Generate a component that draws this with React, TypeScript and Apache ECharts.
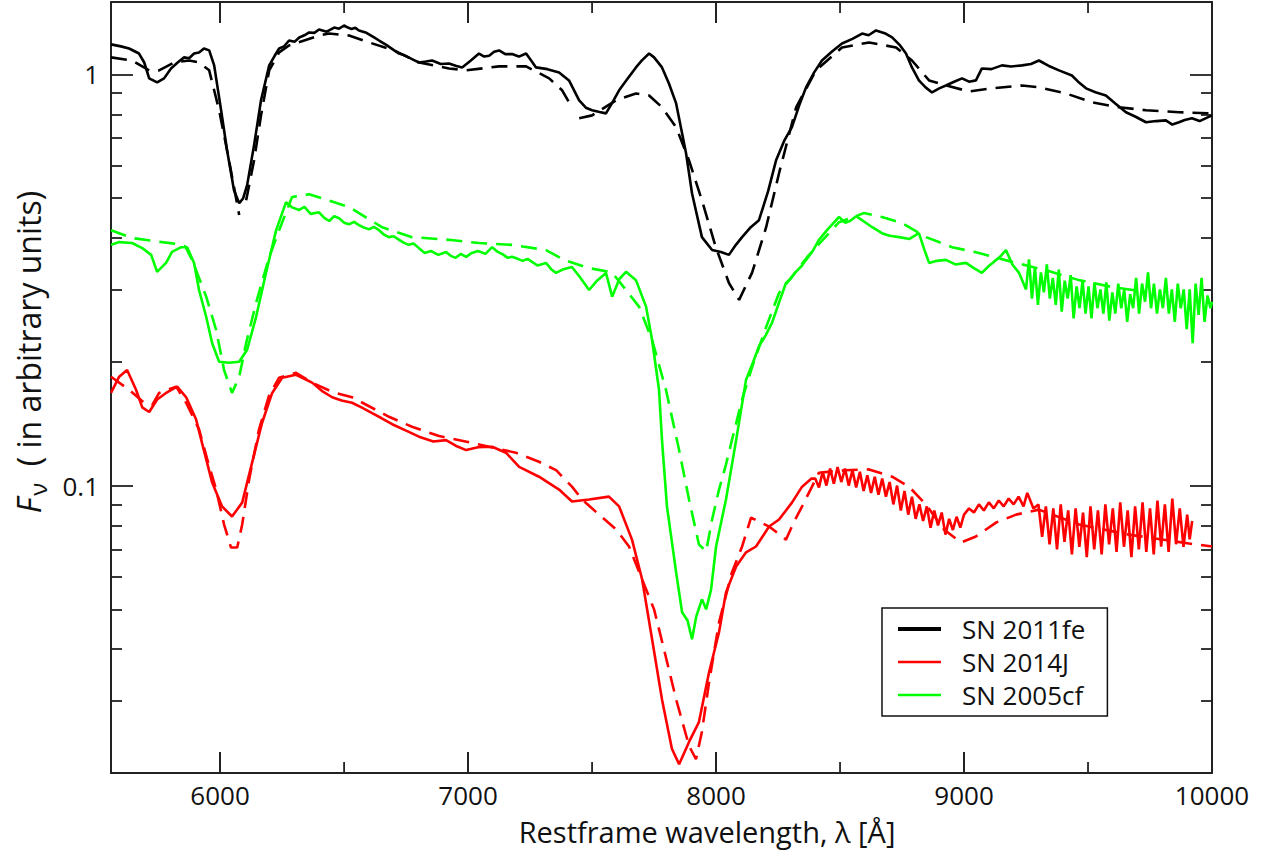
import React, { useEffect, useRef } from 'react';
import * as echarts from 'echarts';

const X_MIN = 5560;
const X_MAX = 10000;
const Y_MIN = 0.02;
const Y_MAX = 1.5;

const xMajorTicks = [6000, 7000, 8000, 9000, 10000];
const xMinorTicks = [6500, 7500, 8500, 9500];
const yMajorTicks = [0.1, 1];
const yMinorTicks = [0.02, 0.03, 0.04, 0.05, 0.06, 0.07, 0.08, 0.09, 0.2, 0.3, 0.4, 0.5, 0.6, 0.7, 0.8, 0.9];

const legendNames = ['SN 2011fe', 'SN 2014J', 'SN 2005cf'];
const colors = { fe: '#000000', j: '#ff0000', cf: '#00ff00' };

// SN 2011fe observed spectrum [wavelength Å, F_nu]
const sn2011feObs = [
  [5560, 1.183], [5600, 1.170], [5633, 1.156], [5673, 1.124], [5694, 1.069], [5714, 0.978], [5746, 0.956], [5774, 0.978],
  [5802, 1.034], [5830, 1.070], [5855, 1.100], [5875, 1.095], [5895, 1.124], [5915, 1.130], [5935, 1.156], [5956, 1.144], [5976, 1.052], [6004, 0.818],
  [6028, 0.654], [6056, 0.523], [6077, 0.486], [6093, 0.500], [6109, 0.538], [6137, 0.673], [6165, 0.865],
  [6198, 1.052], [6220, 1.110], [6238, 1.156], [6258, 1.170], [6278, 1.209], [6300, 1.200], [6319, 1.230], [6340, 1.245], [6359, 1.265], [6380, 1.262], [6399, 1.286], [6430, 1.270],
  [6460, 1.300], [6480, 1.292], [6500, 1.315], [6515, 1.300], [6530, 1.290], [6545, 1.298], [6560, 1.279], [6590, 1.262], [6621, 1.230], [6641, 1.209],
  [6670, 1.180], [6702, 1.144], [6722, 1.124], [6740, 1.115], [6760, 1.100], [6780, 1.085], [6802, 1.069], [6830, 1.075], [6855, 1.081], [6890, 1.060], [6923, 1.063],
  [6950, 1.050], [6976, 1.040], [7010, 1.080], [7044, 1.124], [7065, 1.105], [7085, 1.110], [7105, 1.135], [7125, 1.144], [7150, 1.120], [7180, 1.120], [7205, 1.105], [7234, 1.124],
  [7255, 1.080], [7274, 1.040], [7320, 1.030], [7367, 1.011], [7407, 0.967], [7448, 0.865], [7475, 0.830], [7500, 0.818], [7530, 0.810], [7556, 0.804],
  [7580, 0.850], [7609, 0.915], [7640, 0.970], [7677, 1.040], [7700, 1.080], [7730, 1.124], [7750, 1.100], [7782, 1.040], [7810, 0.950], [7839, 0.850], [7879, 0.643], [7903, 0.514],
  [7943, 0.402], [7984, 0.374], [8020, 0.370], [8052, 0.364], [8080, 0.385], [8105, 0.402], [8140, 0.425],
  [8173, 0.442], [8210, 0.520], [8242, 0.618], [8275, 0.690], [8306, 0.744], [8335, 0.840], [8363, 0.930], [8395, 1.010], [8427, 1.081], [8470, 1.140], [8508, 1.189], [8550, 1.220],
  [8589, 1.257], [8615, 1.245], [8645, 1.279], [8680, 1.260], [8710, 1.230], [8740, 1.180], [8766, 1.124], [8790, 1.040], [8818, 0.967], [8845, 0.930], [8871, 0.904], [8900, 0.925], [8927, 0.940],
  [8960, 0.960], [8992, 0.978], [9020, 0.960], [9048, 0.967], [9072, 1.034], [9110, 1.030], [9153, 1.052], [9190, 1.045], [9234, 1.052], [9270, 1.060], [9302, 1.081], [9340, 1.050], [9383, 1.023],
  [9435, 0.994], [9460, 0.960], [9492, 0.925], [9530, 0.905], [9572, 0.889], [9610, 0.850], [9653, 0.809], [9690, 0.790], [9734, 0.765], [9775, 0.770], [9814, 0.773], [9840, 0.755], [9867, 0.765],
  [9890, 0.775], [9919, 0.782], [9950, 0.770], [10000, 0.795],
];

// SN 2011fe model (dashed), three fitted pieces separated by gaps
const sn2011feModel = [
  [5560, 1.100], [5645, 1.081], [5714, 1.023], [5754, 1.023], [5815, 1.069], [5875, 1.081], [5915, 1.069],
  [5956, 1.023], [5996, 0.818], [6036, 0.618], [6077, 0.455],
  [6090, null],
  [6105, 0.494], [6137, 0.618], [6165, 0.795], [6198, 1.023], [6238, 1.131], [6278, 1.176], [6399, 1.243],
  [6440, 1.257], [6520, 1.243], [6601, 1.196], [6702, 1.144], [6802, 1.069], [6923, 1.034], [6992, 1.023],
  [7125, 1.046], [7234, 1.046], [7327, 0.978], [7379, 0.915], [7419, 0.832],
  [7432, null],
  [7448, 0.782], [7500, 0.795], [7597, 0.865], [7677, 0.899], [7730, 0.889], [7782, 0.832], [7839, 0.744],
  [7891, 0.618], [7943, 0.494], [7999, 0.380], [8052, 0.311], [8093, 0.283], [8145, 0.329], [8202, 0.425],
  [8254, 0.575], [8323, 0.832], [8403, 1.023], [8508, 1.163], [8617, 1.196], [8726, 1.163], [8790, 1.081],
  [8859, 0.967], [8927, 0.940], [9020, 0.909], [9113, 0.925], [9234, 0.940], [9302, 0.930], [9411, 0.899],
  [9516, 0.855], [9625, 0.832], [9734, 0.818], [9867, 0.809], [10000, 0.804],
];

// SN 2014J observed spectrum
const sn2014jObs = [
  [5560, 0.168], [5593, 0.184], [5625, 0.191], [5661, 0.171], [5686, 0.155], [5714, 0.151], [5746, 0.162],
  [5782, 0.168], [5827, 0.174], [5863, 0.164], [5903, 0.145], [5927, 0.127], [5968, 0.1017], [6008, 0.0890],
  [6048, 0.0841], [6089, 0.0909], [6129, 0.1137], [6169, 0.142], [6210, 0.168], [6250, 0.183], [6306, 0.186],
  [6371, 0.178], [6410, 0.170], [6452, 0.164], [6490, 0.161], [6532, 0.159], [6570, 0.155], [6613, 0.150], [6650, 0.146], [6694, 0.141], [6750, 0.136], [6802, 0.1315], [6860, 0.128], [6911, 0.129],
  [6950, 0.125], [6992, 0.122], [7040, 0.124], [7097, 0.1243], [7153, 0.1202], [7206, 0.111], [7286, 0.1051], [7367, 0.0978], [7419, 0.0915],
  [7488, 0.0925], [7568, 0.0940], [7609, 0.0890], [7661, 0.0739], [7702, 0.0591], [7742, 0.0423], [7782, 0.0302],
  [7822, 0.0229], [7851, 0.0210], [7891, 0.0238], [7931, 0.0266], [7972, 0.0352], [8012, 0.0440], [8040, 0.0550],
  [8081, 0.0636], [8121, 0.0688], [8161, 0.0711], [8214, 0.0795], [8254, 0.0827], [8306, 0.0909], [8347, 0.0994],
  [8385, 0.1040],
  [8400, 0.104], [8415, 0.099], [8430, 0.108], [8445, 0.100], [8460, 0.110], [8475, 0.101], [8490, 0.111],
  [8505, 0.102], [8520, 0.110], [8535, 0.100], [8550, 0.109], [8565, 0.099], [8580, 0.108], [8595, 0.097],
  [8610, 0.106], [8625, 0.096], [8640, 0.105], [8655, 0.095], [8670, 0.104], [8685, 0.094], [8700, 0.102],
  [8715, 0.090], [8730, 0.100], [8745, 0.087], [8760, 0.097], [8775, 0.085], [8790, 0.094], [8805, 0.083],
  [8820, 0.090], [8835, 0.082], [8850, 0.089], [8865, 0.079], [8880, 0.087], [8895, 0.080], [8910, 0.086],
  [8925, 0.076], [8940, 0.083], [8955, 0.078], [8970, 0.084], [8985, 0.079], [9000, 0.085], [9020, 0.088],
  [9040, 0.086], [9060, 0.090], [9080, 0.087], [9100, 0.091], [9120, 0.088], [9140, 0.092], [9160, 0.089],
  [9180, 0.093], [9200, 0.090], [9220, 0.094], [9240, 0.089], [9255, 0.096], [9280, 0.088], [9300, 0.090],
  [9315, 0.075], [9330, 0.089], [9345, 0.072], [9360, 0.088], [9375, 0.070], [9390, 0.090], [9405, 0.073],
  [9420, 0.087], [9435, 0.068], [9450, 0.088], [9465, 0.071], [9480, 0.086], [9495, 0.067], [9510, 0.089],
  [9525, 0.070], [9540, 0.087], [9555, 0.068], [9570, 0.090], [9585, 0.072], [9600, 0.088], [9615, 0.069],
  [9630, 0.091], [9645, 0.071], [9660, 0.087], [9675, 0.067], [9690, 0.089], [9705, 0.070], [9720, 0.091],
  [9735, 0.069], [9750, 0.088], [9765, 0.068], [9780, 0.092], [9795, 0.071], [9810, 0.090], [9825, 0.069],
  [9840, 0.093], [9855, 0.072], [9870, 0.088], [9885, 0.071], [9900, 0.085], [9910, 0.074], [9920, 0.082],
];

// SN 2014J model (dashed)
const sn2014jModel = [
  [5560, 0.184], [5633, 0.171], [5694, 0.159], [5726, 0.157], [5754, 0.168], [5823, 0.174], [5863, 0.159],
  [5915, 0.137], [5948, 0.116], [5984, 0.0978], [6016, 0.0804], [6044, 0.0707], [6069, 0.0707], [6089, 0.0804],
  [6117, 0.1034], [6157, 0.137], [6198, 0.166], [6238, 0.183], [6306, 0.188], [6371, 0.178], [6452, 0.169],
  [6532, 0.164], [6681, 0.147], [6774, 0.139], [6883, 0.132], [7016, 0.127], [7193, 0.1202], [7286, 0.1143],
  [7355, 0.109], [7419, 0.0994], [7460, 0.0925], [7528, 0.0850], [7597, 0.0782], [7649, 0.0711], [7702, 0.0591],
  [7750, 0.0500], [7790, 0.0400], [7839, 0.0302], [7891, 0.0233], [7919, 0.0216], [7943, 0.0252], [7972, 0.0333],
  [8012, 0.0465], [8064, 0.0615], [8105, 0.0711], [8141, 0.0836], [8214, 0.0795], [8282, 0.0739], [8315, 0.0818],
  [8347, 0.0890], [8415, 0.1075], [8524, 0.109], [8617, 0.1095], [8710, 0.1051], [8778, 0.0994], [8847, 0.0899],
  [8919, 0.0782], [8988, 0.0727], [9048, 0.0752], [9129, 0.0813], [9210, 0.0850], [9302, 0.0874], [9464, 0.0804],
  [9665, 0.0760], [9907, 0.0723], [10000, 0.0711],
];

// SN 2005cf observed spectrum
const sn2005cfObs = [
  [5560, 0.385], [5593, 0.391], [5645, 0.389], [5686, 0.378], [5722, 0.364], [5746, 0.331], [5782, 0.348],
  [5806, 0.370], [5843, 0.380], [5867, 0.380], [5895, 0.348], [5915, 0.299], [5944, 0.257], [5968, 0.222],
  [5996, 0.200], [6036, 0.199], [6077, 0.200], [6109, 0.214], [6145, 0.257], [6185, 0.329], [6226, 0.418],
  [6266, 0.489], [6290, 0.475], [6319, 0.468], [6340, 0.476], [6365, 0.458], [6399, 0.462], [6420, 0.448], [6440, 0.440], [6460, 0.452], [6480, 0.447], [6500, 0.436], [6520, 0.432], [6540, 0.438], [6560, 0.430],
  [6580, 0.424], [6600, 0.420], [6620, 0.426], [6641, 0.418], [6660, 0.408], [6680, 0.402], [6700, 0.404], [6722, 0.396], [6740, 0.390], [6760, 0.385], [6780, 0.388], [6802, 0.378], [6825, 0.368], [6850, 0.372],
  [6880, 0.364], [6911, 0.370], [6930, 0.362], [6950, 0.358], [6970, 0.366], [6992, 0.360], [7015, 0.368], [7040, 0.372], [7070, 0.366], [7097, 0.380], [7120, 0.370], [7140, 0.365], [7160, 0.358], [7177, 0.360],
  [7200, 0.356], [7220, 0.352], [7240, 0.356], [7258, 0.350], [7280, 0.343], [7314, 0.348], [7335, 0.336], [7355, 0.329], [7385, 0.336], [7419, 0.340], [7450, 0.322], [7488, 0.299], [7520, 0.315], [7556, 0.329],
  [7581, 0.288], [7610, 0.318], [7637, 0.331], [7677, 0.316], [7718, 0.272], [7742, 0.226], [7770, 0.171], [7782, 0.129],
  [7802, 0.0890], [7839, 0.0615], [7863, 0.0492], [7885, 0.0470], [7903, 0.0423], [7920, 0.0480],
  [7943, 0.0529], [7960, 0.0500], [7980, 0.0559], [8000, 0.0711], [8040, 0.0925], [8081, 0.129],
  [8121, 0.181], [8150, 0.200], [8173, 0.218], [8200, 0.232], [8226, 0.249], [8255, 0.280], [8282, 0.311], [8300, 0.318], [8320, 0.330], [8345, 0.342], [8363, 0.354], [8390, 0.372], [8415, 0.396],
  [8450, 0.420], [8496, 0.450], [8520, 0.436], [8540, 0.440], [8565, 0.452], [8589, 0.442], [8630, 0.425], [8669, 0.411], [8700, 0.405], [8738, 0.402], [8780, 0.398], [8818, 0.411], [8840, 0.375], [8859, 0.348],
  [8890, 0.352], [8927, 0.354], [8965, 0.345], [9008, 0.348], [9040, 0.338], [9072, 0.329], [9100, 0.342], [9120, 0.350], [9145, 0.360], [9169, 0.374], [9195, 0.345], [9222, 0.329],
  [9250, 0.300], [9262, 0.355], [9274, 0.285], [9286, 0.340], [9298, 0.275], [9310, 0.330], [9322, 0.295],
  [9334, 0.345], [9346, 0.285], [9358, 0.320], [9370, 0.275], [9382, 0.335], [9394, 0.265], [9406, 0.315],
  [9418, 0.285], [9430, 0.325], [9442, 0.255], [9454, 0.305], [9466, 0.270], [9478, 0.315], [9490, 0.262],
  [9502, 0.305], [9514, 0.255], [9526, 0.312], [9538, 0.270], [9550, 0.300], [9562, 0.262], [9574, 0.312],
  [9586, 0.252], [9598, 0.295], [9610, 0.262], [9622, 0.310], [9634, 0.270], [9646, 0.300], [9658, 0.250],
  [9670, 0.292], [9682, 0.270], [9694, 0.320], [9706, 0.262], [9718, 0.310], [9730, 0.280], [9742, 0.330],
  [9754, 0.270], [9766, 0.310], [9778, 0.262], [9790, 0.300], [9802, 0.270], [9814, 0.320], [9826, 0.262],
  [9838, 0.300], [9850, 0.250], [9862, 0.310], [9874, 0.270], [9886, 0.300], [9898, 0.240], [9910, 0.300],
  [9922, 0.222], [9934, 0.310], [9946, 0.260], [9958, 0.320], [9970, 0.250], [9982, 0.290], [9994, 0.270],
  [10000, 0.280],
];

// SN 2005cf model (dashed)
const sn2005cfModel = [
  [5560, 0.418], [5593, 0.411], [5645, 0.400], [5766, 0.391], [5823, 0.387], [5859, 0.382], [5887, 0.354],
  [5944, 0.288], [5984, 0.239], [6016, 0.191], [6048, 0.168], [6077, 0.184], [6105, 0.222], [6145, 0.278],
  [6198, 0.360], [6238, 0.418], [6290, 0.503], [6359, 0.511], [6520, 0.476], [6653, 0.425], [6774, 0.402],
  [6923, 0.396], [7044, 0.389], [7177, 0.385], [7314, 0.374], [7387, 0.354], [7488, 0.338], [7580, 0.330],
  [7637, 0.299], [7690, 0.272], [7742, 0.226], [7798, 0.171], [7851, 0.122], [7891, 0.0925], [7931, 0.0719],
  [7960, 0.0692], [7984, 0.0827], [8012, 0.0978], [8040, 0.1125], [8064, 0.129], [8105, 0.162], [8145, 0.194],
  [8202, 0.243], [8254, 0.294], [8375, 0.364], [8496, 0.437], [8597, 0.460], [8669, 0.450], [8750, 0.435],
  [8847, 0.402], [8952, 0.380], [9060, 0.368], [9193, 0.350], [9330, 0.334], [9464, 0.316], [9597, 0.304],
  [9734, 0.296],
];

const FONT = '"Open Sans", "DejaVu Sans", sans-serif';
const AXIS_COLOR = '#222222';
const TEXT_COLOR = '#111111';

// layout of the chart (px)
const CHART_W = 1271;
const CHART_H = 854;
const GRID = { left: 111, right: 59, top: 2, bottom: 81 };
const MAJOR_LEN = 21;
const MINOR_LEN = 11;

const logMin = Math.log10(Y_MIN);
const logMax = Math.log10(Y_MAX);

// x-axis tick marks on the bottom and top frame, mapped with the axis' linear extent
const plotW = CHART_W - GRID.left - GRID.right;
const frameBottom = CHART_H - GRID.bottom;
const frameTop = GRID.top;
const xToPx = (v: number) => GRID.left + ((v - X_MIN) / (X_MAX - X_MIN)) * plotW;
const xTickGraphics: any[] = [];
const addXTick = (v: number, len: number) => {
  const px = xToPx(v);
  const style = { stroke: AXIS_COLOR, lineWidth: 1.8 };
  xTickGraphics.push({ type: 'line', silent: true, z: 100, shape: { x1: px, y1: frameBottom, x2: px, y2: frameBottom - len }, style });
  xTickGraphics.push({ type: 'line', silent: true, z: 100, shape: { x1: px, y1: frameTop, x2: px, y2: frameTop + len }, style });
};
xMajorTicks.forEach((v) => addXTick(v, MAJOR_LEN));
xMinorTicks.forEach((v) => addXTick(v, MINOR_LEN));

function yTickAxis(position: string, values: number[], length: number, showLine: boolean) {
  const logs = values.map((v) => Math.log10(v));
  return {
    type: 'value',
    gridIndex: 0,
    position,
    min: logMin,
    max: logMax,
    axisLine: { show: showLine, onZero: false, lineStyle: { color: AXIS_COLOR, width: 2 } },
    splitLine: { show: false },
    axisLabel: { show: false, customValues: logs },
    axisTick: { show: true, inside: true, length, customValues: logs, lineStyle: { color: AXIS_COLOR, width: 1.8 } },
  };
}

function lineSeries(name: string, data: any[], color: string, dashed: boolean) {
  return {
    type: 'line',
    name,
    data,
    xAxisIndex: 0,
    yAxisIndex: 0,
    symbol: 'none',
    showSymbol: false,
    connectNulls: false,
    silent: true,
    clip: true,
    lineStyle: { color, width: 2.6, type: dashed ? [16, 9] : 'solid' },
    itemStyle: { color },
  };
}

export default function App() {
  const ref = useRef<HTMLDivElement>(null);

  useEffect(() => {
    if (!ref.current) return;
    const chart = echarts.init(ref.current, undefined, { renderer: 'svg' });
    const xAxisBase = {
      type: 'value',
      gridIndex: 0,
      min: X_MIN,
      max: X_MAX,
      splitLine: { show: false },
      minorTick: { show: false },
      axisLine: { show: true, onZero: false, lineStyle: { color: AXIS_COLOR, width: 2 } },
      axisTick: { show: true, inside: true, length: MAJOR_LEN, lineStyle: { color: AXIS_COLOR, width: 1.8 } },
    };
    const option: any = {
      animation: false,
      backgroundColor: '#ffffff',
      grid: { ...GRID },
      xAxis: [
        {
          ...xAxisBase,
          position: 'bottom',
          axisLabel: {
            showMinLabel: false,
            formatter: (v: number) => String(v),
            fontSize: 26,
            fontFamily: FONT,
            color: TEXT_COLOR,
            margin: 9,
          },
        },
        {
          ...xAxisBase,
          position: 'top',
          axisLabel: { show: false },
        },
      ],
      yAxis: [
        {
          type: 'log',
          logBase: 10,
          gridIndex: 0,
          position: 'left',
          min: Y_MIN,
          max: Y_MAX,
          axisLine: { show: true, onZero: false, lineStyle: { color: AXIS_COLOR, width: 2 } },
          axisTick: { show: false },
          splitLine: { show: false },
          minorTick: { show: false },
          axisLabel: {
            showMinLabel: false,
            showMaxLabel: false,
            fontSize: 26,
            fontFamily: FONT,
            color: TEXT_COLOR,
            margin: 12,
          },
        },
        yTickAxis('left', yMajorTicks, 22, false),
        yTickAxis('left', yMinorTicks, 11, false),
        yTickAxis('right', yMajorTicks, 22, true),
        yTickAxis('right', yMinorTicks, 11, false),
      ],
      legend: {
        show: true,
        orient: 'vertical',
        left: 882,
        top: 608,
        itemWidth: 43,
        itemHeight: 2,
        itemGap: 7,
        padding: [8, 22, 8, 14],
        backgroundColor: '#ffffff',
        borderColor: '#111111',
        borderWidth: 1.5,
        borderRadius: 0,
        selectedMode: false,
        itemStyle: { opacity: 0 },
        textStyle: { fontSize: 26, fontFamily: FONT, color: TEXT_COLOR, padding: [0, 0, 0, 16] },
        data: [
          { name: legendNames[0], lineStyle: { width: 4 } },
          { name: legendNames[1], lineStyle: { width: 2.5 } },
          { name: legendNames[2], lineStyle: { width: 2.5 } },
        ],
      },
      graphic: [
        {
          type: 'text',
          x: 707,
          y: 831,
          silent: true,
          style: {
            text: 'Restframe wavelength, λ [Å]',
            fontSize: 29,
            fontFamily: FONT,
            fill: TEXT_COLOR,
            align: 'center',
            verticalAlign: 'middle',
          },
        },
        {
          type: 'text',
          x: 28,
          y: 352,
          rotation: Math.PI / 2,
          silent: true,
          style: {
            text: '{f|F}{n|ν}{t|  ( in arbitrary units)}',
            align: 'center',
            verticalAlign: 'middle',
            fill: TEXT_COLOR,
            fontFamily: FONT,
            rich: {
              f: { fontSize: 32, fontStyle: 'italic', fontFamily: FONT, fill: TEXT_COLOR },
              n: { fontSize: 24, fontFamily: FONT, fill: TEXT_COLOR, padding: [18, 0, 0, 2] },
              t: { fontSize: 32, fontFamily: FONT, fill: TEXT_COLOR },
            },
          },
        },
        ...xTickGraphics,
      ],
      series: [
        lineSeries('SN 2005cf model', sn2005cfModel, colors.cf, true),
        lineSeries('SN 2014J model', sn2014jModel, colors.j, true),
        lineSeries('SN 2011fe model', sn2011feModel, colors.fe, true),
        lineSeries(legendNames[2], sn2005cfObs, colors.cf, false),
        lineSeries(legendNames[1], sn2014jObs, colors.j, false),
        lineSeries(legendNames[0], sn2011feObs, colors.fe, false),
      ],
    };
    chart.setOption(option);
    return () => {
      chart.dispose();
    };
  }, []);

  return (
    <div
      ref={ref}
      style={{ position: 'fixed', left: 0, top: 0, width: CHART_W + 'px', height: CHART_H + 'px', background: '#fff' }}
    />
  );
}
